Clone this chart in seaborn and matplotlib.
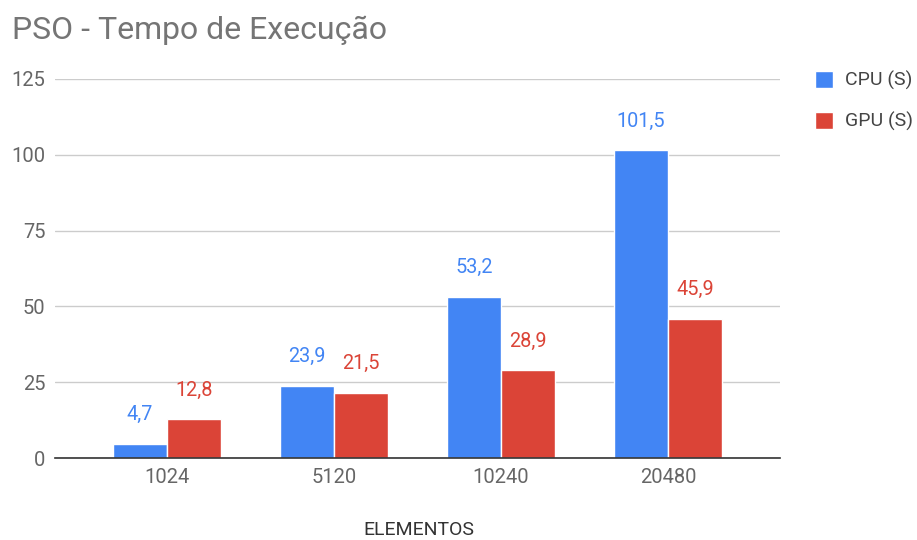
import matplotlib
matplotlib.use("Agg")
import matplotlib.pyplot as plt
import seaborn as sns
import pandas as pd

categories = ["1024", "5120", "10240", "20480"]
series_names = ["CPU (S)", "GPU (S)"]
cpu_values = [4.7, 23.9, 53.2, 101.5]
gpu_values = [12.8, 21.5, 28.9, 45.9]
y_ticks = [0, 25, 50, 75, 100, 125]

colors = ["#4285F4", "#DB4437"]

df = pd.DataFrame({
    "Elementos": categories * 2,
    "Serie": [series_names[0]] * 4 + [series_names[1]] * 4,
    "Valor": cpu_values + gpu_values,
})

sns.set_theme(style="white")
plt.rcParams['font.family'] = ['Roboto', 'DejaVu Sans']

fig = plt.figure(figsize=(9.17, 5.4), dpi=100)
ax = fig.add_axes([55 / 917, 1 - 458 / 540, 725 / 917, (458 - 79) / 540])

sns.barplot(data=df, x="Elementos", y="Valor", hue="Serie", order=categories,
            hue_order=series_names, palette=colors, width=0.65, ax=ax,
            edgecolor="white", linewidth=1.0, saturation=1, legend=True)

ax.set_ylim(0, 125)
ax.set_xlim(-0.67, 3.67)
ax.set_yticks(y_ticks)
ax.set_yticklabels([str(t) for t in y_ticks], color="#666666", fontsize=14.5)
ax.tick_params(axis="x", labelcolor="#666666", labelsize=14.5, length=0, pad=7)
ax.tick_params(axis="y", length=0, pad=7)
ax.yaxis.grid(True, color="#cccccc", linewidth=1)
ax.set_axisbelow(True)
for s in ["top", "right", "left"]:
    ax.spines[s].set_visible(False)
ax.spines["bottom"].set_color("#333333")
ax.spines["bottom"].set_linewidth(1.2)
ax.set_xlabel("")
ax.set_ylabel("")

for container, col in zip(ax.containers, colors):
    labels = [f"{v:.1f}".replace(".", ",") for v in container.datavalues]
    ax.bar_label(container, labels=labels, padding=14, color=col, fontsize=14.3)

leg = ax.legend(loc="upper left", bbox_to_anchor=(815 / 917, 1 - 71 / 540),
                bbox_transform=fig.transFigure, frameon=False, borderpad=0,
                borderaxespad=0, fontsize=14, handlelength=0.93,
                handleheight=0.93, labelspacing=1.12, handletextpad=0.6)
for t in leg.get_texts():
    t.set_color("#444444")

fig.text(12 / 917, 1 - 30 / 540, "PSO - Tempo de Execução", fontsize=23,
         color="#757575", va="center", ha="left")
fig.text(419 / 917, 1 - 530 / 540, "ELEMENTOS", fontsize=14, color="#333333",
         va="center", ha="center")

fig.savefig("out.png", dpi=100)
